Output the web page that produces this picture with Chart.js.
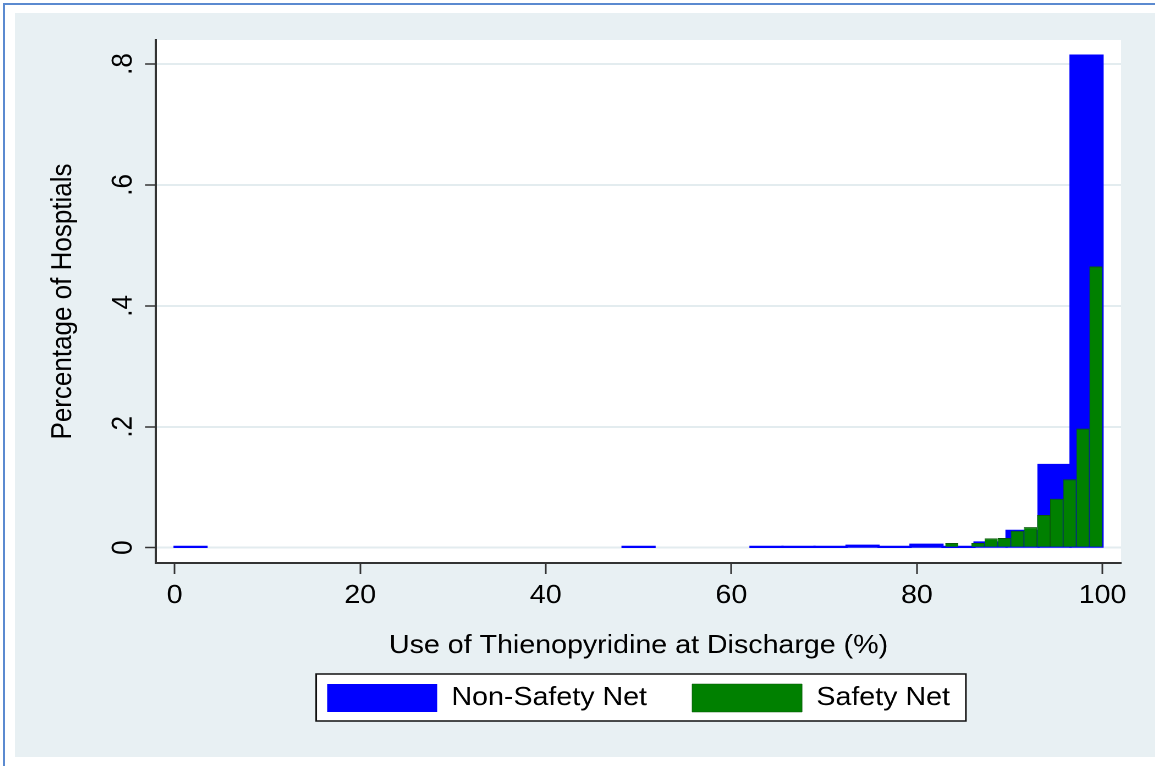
<!DOCTYPE html>
<html>
<head>
<meta charset="utf-8">
<title>Use of Thienopyridine at Discharge</title>
<script src="https://cdn.jsdelivr.net/npm/chart.js@4/dist/chart.umd.min.js"></script>
<style>
  html, body { margin: 0; padding: 0; background: #ffffff; overflow: hidden; width: 1155px; height: 766px; }
  #frame {
    position: absolute; left: 3px; top: 3px; width: 1170px; height: 780px;
    border-left: 2px solid #5b8ad0; border-top: 2px solid #5b8ad0;
  }
  #panel {
    position: absolute; left: 15px; top: 13px; width: 1037px; height: 744px;
    transform: scaleX(1.1); transform-origin: 0 0;
  }
</style>
</head>
<body>
<div id="frame"></div>
<div id="panel"><canvas id="chart" width="1037" height="744"></canvas></div>
<script>
// Axis ticks
const xTickValues = [0, 20, 40, 60, 80, 100];
const yTickValues = [0, 0.2, 0.4, 0.6, 0.8];
const yTickLabels = ['0', '.2', '.4', '.6', '.8'];

// Non-safety-net hospitals: bin midpoints (29 bins over 0-100) and fraction of hospitals
const nonSafetyBinWidth = 3.4483;
const nonSafetyBins = [1.72, 50.00, 63.79, 67.24, 70.69, 74.14, 77.59, 81.03, 84.48, 87.93, 91.38, 94.83, 98.28];
const nonSafetyFrac = [0.0012, 0.0012, 0.0012, 0.0012, 0.0012, 0.0035, 0.0012, 0.005, 0.0012, 0.0088, 0.028, 0.137, 0.814];

// Safety-net hospitals: bin midpoints (12 bins over 83-100) and fraction of hospitals
const safetyBinWidth = 1.4125;
const safetyBins = [83.76, 86.58, 88.00, 89.41, 90.82, 92.23, 93.65, 95.06, 96.47, 97.88, 99.29];
const safetyFrac = [0.0078, 0.0078, 0.0154, 0.016, 0.028, 0.034, 0.054, 0.081, 0.113, 0.197, 0.465];

const seriesNames = ['Non-Safety Net', 'Safety Net'];

// Canvas geometry (the plot area is pinned by fixed axis sizes and padding)
const canvasWidth = 1037;
const padRight = 31.5;
const yAxisWidth = 128.2;
const xMin = -2, xMax = 102;
const pxPerUnit = (canvasWidth - padRight - yAxisWidth) / (xMax - xMin);

const toPoints = (xs, ys) => xs.map((x, i) => ({ x: x, y: ys[i] }));

// Graph region, white plot region and the framed legend box
const backdrop = {
  id: 'backdrop',
  beforeDraw(chart) {
    const { ctx, chartArea: a, width, height } = chart;
    ctx.save();
    ctx.fillStyle = '#e8f0f3';
    ctx.fillRect(0, 0, width, height);
    ctx.fillStyle = '#ffffff';
    ctx.fillRect(a.left, a.top, a.right - a.left, a.bottom - a.top);
    const boxes = chart.legend && chart.legend.legendHitBoxes;
    if (boxes && boxes.length) {
      const first = boxes[0], last = boxes[boxes.length - 1];
      const x0 = first.left - 10, x1 = last.left + last.width + 14.5;
      const y0 = first.top - 10, y1 = first.top + 37;
      ctx.fillStyle = '#ffffff';
      ctx.fillRect(x0, y0, x1 - x0, y1 - y0);
      ctx.strokeStyle = '#111111';
      ctx.lineWidth = 1.5;
      ctx.strokeRect(x0, y0, x1 - x0, y1 - y0);
    }
    ctx.restore();
  }
};

Chart.defaults.font.family = "'Liberation Sans', Arial, Helvetica, sans-serif";
Chart.defaults.font.size = 26;
Chart.defaults.color = '#000000';

const fixedTicks = values => scale => { scale.ticks = values.map(v => ({ value: v })); };

new Chart(document.getElementById('chart'), {
  type: 'bar',
  data: {
    datasets: [
      {
        label: seriesNames[0],
        data: toPoints(nonSafetyBins, nonSafetyFrac),
        xAxisID: 'x',
        yAxisID: 'y',
        backgroundColor: '#0000ff',
        borderWidth: 0,
        inflateAmount: 1,
        grouped: false,
        barThickness: nonSafetyBinWidth * pxPerUnit,
        order: 1
      },
      {
        label: seriesNames[1],
        data: toPoints(safetyBins, safetyFrac),
        xAxisID: 'x',
        yAxisID: 'y',
        backgroundColor: '#008000',
        borderColor: '#0a5a0a',
        borderWidth: { left: 0.5, right: 0.5, top: 1, bottom: 0 },
        borderSkipped: 'start',
        inflateAmount: 0,
        grouped: false,
        barThickness: safetyBinWidth * pxPerUnit,
        order: 0
      }
    ]
  },
  options: {
    responsive: false,
    animation: false,
    devicePixelRatio: 2,
    layout: { padding: { left: 0, top: 27, right: padRight, bottom: 35 } },
    plugins: {
      legend: {
        position: 'bottom',
        fullSize: false,
        align: 'center',
        labels: {
          boxWidth: 100, boxHeight: 28, padding: 41, color: '#000000', font: { size: 26 },
          sort: (a, b) => a.datasetIndex - b.datasetIndex
        }
      },
      tooltip: { enabled: false }
    },
    scales: {
      x: {
        type: 'linear',
        position: 'bottom',
        offset: false,
        min: xMin,
        max: xMax,
        afterBuildTicks: fixedTicks(xTickValues),
        afterFit: s => { s.height = 80; },
        ticks: { padding: 6.4, color: '#000000', autoSkip: false, maxRotation: 0 },
        grid: { display: true, offset: false, drawOnChartArea: false, drawTicks: true, tickLength: 11, tickColor: '#333333', tickWidth: 1.5 },
        border: { display: true, color: '#333333', width: 2 },
        title: { display: true, text: 'Use of Thienopyridine at Discharge (%)', color: '#000000', padding: { top: 0, bottom: -18.6 } }
      },
      y: {
        type: 'linear',
        position: 'left',
        min: -0.0253,
        max: 0.8397,
        afterBuildTicks: fixedTicks(yTickValues),
        afterFit: s => { s.width = yAxisWidth; },
        ticks: {
          minRotation: 90, maxRotation: 90, crossAlign: 'center', padding: 8.6, color: '#000000',
          callback: (value, index) => yTickLabels[index]
        },
        grid: { color: '#e3ecef', lineWidth: 2, drawTicks: true, tickLength: 10, tickColor: '#333333', tickWidth: 1.5 },
        border: { display: true, color: '#333333', width: 2 },
        title: { display: true, text: 'Percentage of Hosptials', color: '#000000', padding: { top: 28.3, bottom: 0 } }
      }
    }
  },
  plugins: [backdrop]
});
</script>
</body>
</html>
